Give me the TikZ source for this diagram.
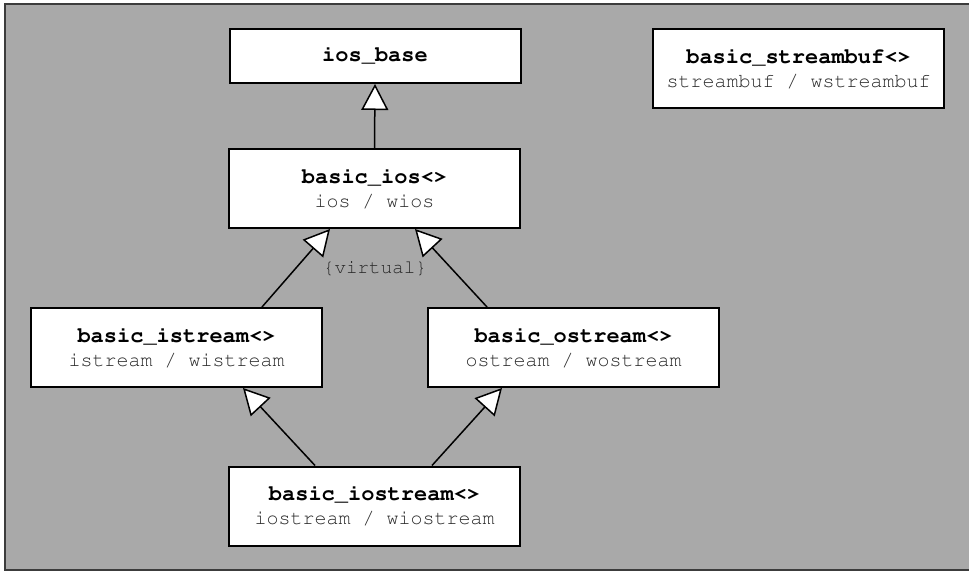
\documentclass[tikz,border=0pt]{standalone}
\usepackage[T1]{fontenc}
\usepackage{courier}
\usetikzlibrary{arrows.meta}
\definecolor{panelgray}{HTML}{A9A9A9}
\definecolor{framegray}{HTML}{3C3C3C}
\definecolor{subgray}{HTML}{2A2A2A}
\tikzset{
  cls/.style={draw=black, fill=white, line width=2pt, minimum width=291pt,
    minimum height=79pt, inner sep=0pt, align=center,
    font=\ttfamily\fontsize{22}{24}\selectfont},
  inh/.style={line width=1.5pt, -{Triangle[open, length=26pt, width=27pt, fill=white]}},
}
\newcommand{\clsname}[2]{{\bfseries #1}\\{\color{subgray}\fontsize{20}{24}\selectfont #2}}
\begin{document}
\begin{tikzpicture}[x=1pt,y=-1pt]
  \useasboundingbox (0,0) rectangle (969,572);
  \draw[fill=panelgray, draw=framegray, line width=2pt] (4.5,4) rectangle (980,570);

  \node[cls, minimum height=54pt] (iosbase) at (375,56) {\bfseries ios\_base};
  \node[cls] (streambuf) at (798.5,69) {\clsname{basic\_streambuf<>}{streambuf / wstreambuf}};
  \node[cls] (basicios) at (374.5,188.5) {\clsname{basic\_ios<>}{ios / wios}};
  \node[cls] (istream) at (176.5,347.5) {\clsname{basic\_istream<>}{istream / wistream}};
  \node[cls] (ostream) at (573.5,347.5) {\clsname{basic\_ostream<>}{ostream / wostream}};
  \node[cls] (iostream) at (374.5,506) {\clsname{basic\_iostream<>}{iostream / wiostream}};

  \node[font=\ttfamily\fontsize{19.2}{21}\selectfont, text=subgray] (virt) at (375,268) {\{virtual\}};

  \draw[inh] (basicios.north) -- (iosbase.south);
  \draw[inh] ([xshift=85.5pt]istream.north) -- ([xshift=-44.5pt]basicios.south);
  \draw[inh] ([xshift=-86.5pt]ostream.north) -- ([xshift=40.5pt]basicios.south);
  \draw[inh] ([xshift=-59.5pt]iostream.north) -- ([xshift=66.5pt]istream.south);
  \draw[inh] ([xshift=57.5pt]iostream.north) -- ([xshift=-71.5pt]ostream.south);
\end{tikzpicture}
\end{document}
